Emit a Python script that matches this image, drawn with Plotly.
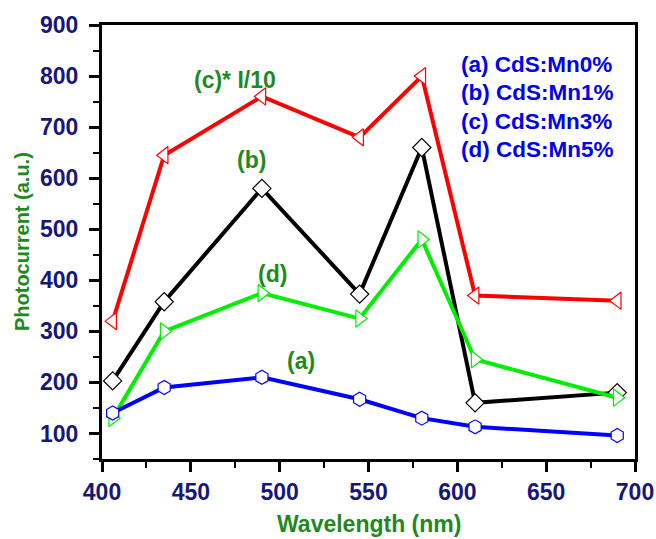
import plotly.graph_objects as go

wavelength = [406, 435, 490, 545, 580, 610, 690]
cds_mn0 = [140, 190, 210, 167, 130, 113, 96]
cds_mn1 = [203, 358, 580, 373, 660, 160, 180]
cds_mn3 = [320, 645, 760, 680, 800, 370, 360]
cds_mn5 = [130, 300, 375, 325, 480, 245, 170]

legend_lines = ["(a) CdS:Mn0%", "(b) CdS:Mn1%", "(c) CdS:Mn3%", "(d) CdS:Mn5%"]

FONT = "Liberation Sans"
GREEN = "#1e8a1e"
NAVY = "#17177a"

series = [
    (cds_mn3, "#ff0000", "triangle-left", 15),
    (cds_mn1, "#000000", "diamond", 14),
    (cds_mn5, "#00ee00", "triangle-right", 15),
    (cds_mn0, "#0000ff", "hexagon", 14),
]

fig = go.Figure()
for ys, col, sym, sz in series:
    fig.add_trace(go.Scatter(
        x=wavelength, y=ys, mode="lines+markers",
        line=dict(color=col, width=4),
        marker=dict(symbol=sym, size=sz, color="white",
                    line=dict(color=col, width=1.2)),
        showlegend=False,
    ))

annots = [
    ("(c)* I/10", 475, 792),
    ("(b)", 484, 635),
    ("(d)", 496, 412),
    ("(a)", 512, 241),
]
for txt, x, y in annots:
    fig.add_annotation(x=x, y=y, text=txt, showarrow=False,
                       font=dict(family=FONT, size=23, color=GREEN, weight="bold"))

leg_y = [823, 768, 711, 656]
for txt, y in zip(legend_lines, leg_y):
    fig.add_annotation(x=601, y=y, text=txt, showarrow=False, xanchor="left",
                       font=dict(family=FONT, size=22.5, color="#0000ee", weight="bold"))

# axis titles
fig.add_annotation(xref="paper", yref="paper", x=0.5, y=-0.150, yanchor="middle",
                   text="Wavelength (nm)", showarrow=False,
                   font=dict(family=FONT, size=23, color=GREEN, weight="bold"))
fig.add_annotation(xref="paper", yref="paper", x=-0.150, y=0.5, xanchor="center",
                   text="Photocurrent (a.u.)", showarrow=False, textangle=-90,
                   font=dict(family=FONT, size=20, color=GREEN, weight="bold"))

axis_common = dict(
    showline=True, linecolor="black", linewidth=3, mirror=True,
    ticks="outside", ticklen=10, tickwidth=3, tickcolor="black",
    showgrid=False, zeroline=False, automargin=False,
    tickfont=dict(family=FONT, size=23, color=NAVY, weight="bold"),
)

fig.update_xaxes(range=[400, 700], tick0=400, dtick=50,
                 minor=dict(ticks="outside", ticklen=6, tickwidth=2, tickcolor="black", dtick=25),
                 **axis_common)
fig.update_yaxes(range=[50, 900], tick0=100, dtick=100, ticklabelstandoff=6,
                 minor=dict(ticks="outside", ticklen=6, tickwidth=2, tickcolor="black", dtick=50),
                 **axis_common)

fig.update_layout(
    width=656, height=539,
    margin=dict(l=102, r=21, t=25, b=80),
    plot_bgcolor="white", paper_bgcolor="white",
)

fig.write_html("out.html")
